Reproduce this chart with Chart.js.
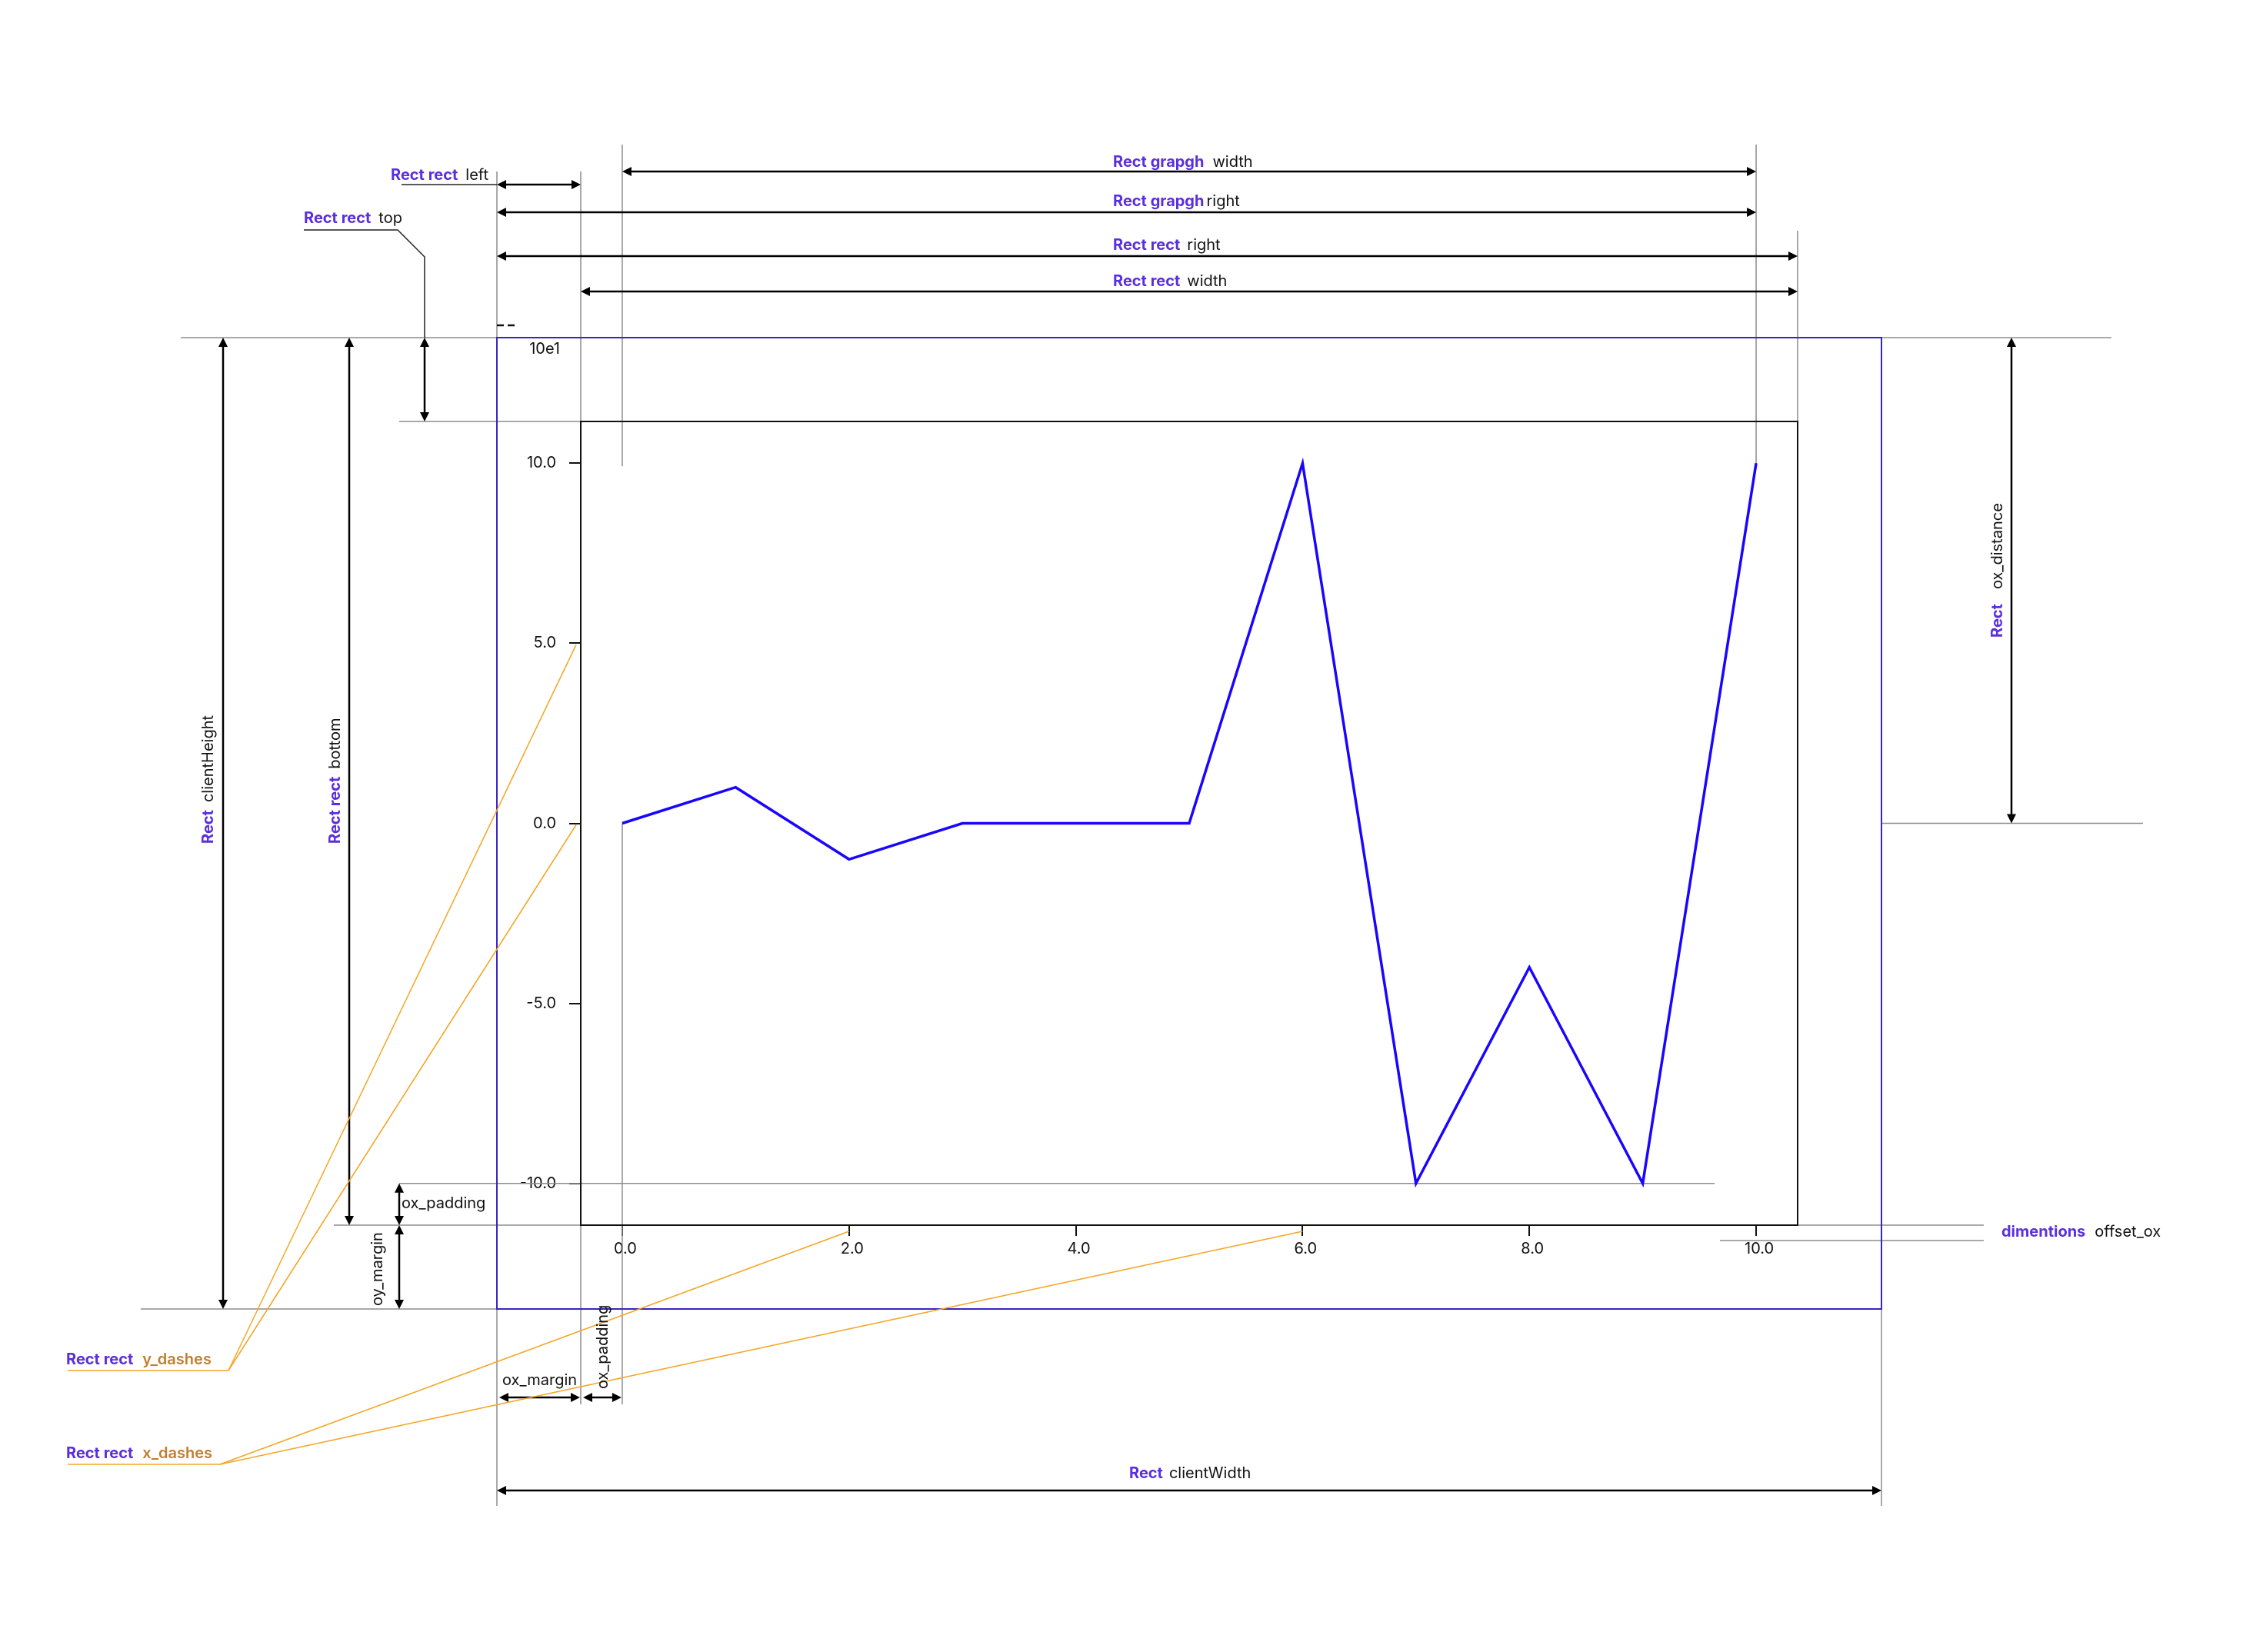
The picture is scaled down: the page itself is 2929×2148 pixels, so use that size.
<!DOCTYPE html>
<html>
<head>
<meta charset="utf-8">
<script src="https://cdn.jsdelivr.net/npm/chart.js@4.4.1/dist/chart.umd.min.js"></script>
<style>
  html, body { margin: 0; padding: 0; background: #fff; }
  canvas { display: block; }
</style>
</head>
<body>
<canvas id="chart" width="2929" height="2148"></canvas>
<script>
// data
const xValues = [0, 1, 2, 3, 4, 5, 6, 7, 8, 9, 10];
const yValues = [0, 1, -1, 0, 0, 0, 10, -10, -4, -10, 10];
const xTicks = [0, 2, 4, 6, 8, 10];
const yTicks = [-10, -5, 0, 5, 10];
const yExponent = '10e1';
// ticks that the orange leaders point at
const yDashTicks = [5, 0];
const xDashTicks = [2, 6];

const PURPLE = '#5a2fdc';
const ORANGE = '#f5a524';
const ORANGE_TXT = '#c17e30';
const GUIDE = '#8c8c8c';
const BLUE_RECT = '#3625c4';
const MARGIN = 109;

Chart.defaults.font.family = 'Inter, "Noto Sans", sans-serif';

function seg(ctx, x1, y1, x2, y2) {
  ctx.beginPath();
  ctx.moveTo(x1, y1);
  ctx.lineTo(x2, y2);
  ctx.stroke();
}

function head(ctx, x, y, ang) {
  const L = 12, W = 6;
  ctx.beginPath();
  ctx.moveTo(x, y);
  ctx.lineTo(x - L * Math.cos(ang) + W * Math.sin(ang), y - L * Math.sin(ang) - W * Math.cos(ang));
  ctx.lineTo(x - L * Math.cos(ang) - W * Math.sin(ang), y - L * Math.sin(ang) + W * Math.cos(ang));
  ctx.closePath();
  ctx.fill();
}

function arrow(ctx, x1, y1, x2, y2) {
  ctx.save();
  ctx.strokeStyle = '#000';
  ctx.fillStyle = '#000';
  ctx.lineWidth = 2.5;
  const ang = Math.atan2(y2 - y1, x2 - x1);
  const dx = Math.cos(ang) * 8, dy = Math.sin(ang) * 8;
  seg(ctx, x1 + dx, y1 + dy, x2 - dx, y2 - dy);
  head(ctx, x2, y2, ang);
  head(ctx, x1, y1, ang + Math.PI);
  ctx.restore();
}

// parts: [[text, kind, gapAfter]]
function label(ctx, parts, x, y, vertical) {
  ctx.save();
  ctx.translate(x, y);
  if (vertical) ctx.rotate(-Math.PI / 2);
  ctx.textBaseline = 'alphabetic';
  ctx.textAlign = 'left';
  let cx = 0;
  parts.forEach(([t, kind, gap]) => {
    if (kind === 'p') { ctx.font = 'bold 20px Inter'; ctx.fillStyle = PURPLE; }
    else if (kind === 'o') { ctx.font = '600 20px Inter'; ctx.fillStyle = ORANGE_TXT; }
    else { ctx.font = '20px Inter'; ctx.fillStyle = '#111'; }
    ctx.fillText(t, cx, 0);
    cx += ctx.measureText(t).width + (gap || 0);
  });
  ctx.restore();
}

const guides = {
  id: 'guides',
  beforeDatasetsDraw(chart) {
    const ctx = chart.ctx;
    const a = chart.chartArea;
    const xs = chart.scales.x, ys = chart.scales.y;
    const box = { l: a.left - MARGIN, t: a.top - MARGIN, r: a.right + MARGIN, b: a.bottom + MARGIN };
    const gx0 = xs.getPixelForValue(xTicks[0]);
    const gx1 = xs.getPixelForValue(xTicks[xTicks.length - 1]);
    const yTop = ys.getPixelForValue(yTicks[yTicks.length - 1]);
    const yLow = ys.getPixelForValue(yTicks[0]);
    const yZero = ys.getPixelForValue(0);

    ctx.save();
    ctx.strokeStyle = GUIDE;
    ctx.lineWidth = 1.5;
    // horizontal
    seg(ctx, 235, box.t, 2745, box.t);
    seg(ctx, 519, a.top, a.left, a.top);
    seg(ctx, box.r, yZero, 2786, yZero);
    seg(ctx, 519, yLow, 2229, yLow);
    seg(ctx, 434, a.bottom, a.left, a.bottom);
    seg(ctx, 2236, a.bottom, 2579, a.bottom);
    seg(ctx, 2236, a.bottom + 20, 2579, a.bottom + 20);
    seg(ctx, 183, box.b, box.l, box.b);
    // vertical
    seg(ctx, box.l, 223, box.l, 1958);
    seg(ctx, a.left, 223, a.left, a.top);
    seg(ctx, a.left, a.bottom, a.left, 1826);
    seg(ctx, gx0, 188, gx0, yTop + 4);
    seg(ctx, gx0, yZero, gx0, 1826);
    seg(ctx, gx1, 188, gx1, yTop + 4);
    seg(ctx, a.right, 300, a.right, a.top);
    seg(ctx, box.r, box.b, box.r, 1958);
    ctx.restore();
  },
  afterDraw(chart) {
    const ctx = chart.ctx;
    const a = chart.chartArea;
    const xs = chart.scales.x, ys = chart.scales.y;
    const box = { l: a.left - MARGIN, t: a.top - MARGIN, r: a.right + MARGIN, b: a.bottom + MARGIN };
    const gx0 = xs.getPixelForValue(xTicks[0]);
    const gx1 = xs.getPixelForValue(xTicks[xTicks.length - 1]);
    const yZero = ys.getPixelForValue(0);
    const yLow = ys.getPixelForValue(yTicks[0]);

    ctx.save();
    // client box
    ctx.strokeStyle = BLUE_RECT;
    ctx.lineWidth = 2;
    ctx.strokeRect(box.l, box.t, box.r - box.l, box.b - box.t);
    // plot frame
    ctx.strokeStyle = '#111';
    ctx.lineWidth = 2;
    ctx.strokeRect(a.left, a.top, a.right - a.left, a.bottom - a.top);

    // exponent label and dash marker
    ctx.font = '20px Inter';
    ctx.fillStyle = '#111';
    ctx.textAlign = 'right';
    ctx.textBaseline = 'middle';
    ctx.fillText(yExponent, 728, box.t + 15);
    ctx.strokeStyle = '#111';
    ctx.lineWidth = 2.5;
    ctx.setLineDash([9, 5]);
    seg(ctx, box.l, box.t - 16, box.l + 23, box.t - 16);
    ctx.setLineDash([]);

    // top dimension arrows
    arrow(ctx, box.l, 240, a.left, 240);
    arrow(ctx, gx0, 223, gx1, 223);
    arrow(ctx, box.l, 276, gx1, 276);
    arrow(ctx, box.l, 333, a.right, 333);
    arrow(ctx, a.left, 379, a.right, 379);

    // left labels leaders
    ctx.strokeStyle = '#222';
    ctx.lineWidth = 1.5;
    seg(ctx, 522, 240, box.l, 240);
    ctx.beginPath();
    ctx.moveTo(395, 299);
    ctx.lineTo(517, 299);
    ctx.lineTo(552, 334);
    ctx.lineTo(552, box.t);
    ctx.stroke();
    arrow(ctx, 552, box.t, 552, a.top);

    // vertical dimension arrows
    arrow(ctx, 290, box.t, 290, box.b);
    arrow(ctx, 454, box.t, 454, a.bottom);
    arrow(ctx, 2615, box.t, 2615, yZero);
    arrow(ctx, 519, yLow, 519, a.bottom);
    arrow(ctx, 519, a.bottom, 519, box.b);

    // bottom arrows
    arrow(ctx, box.l + 3, 1817, a.left - 1, 1817);
    arrow(ctx, a.left + 3, 1817, gx0 - 1, 1817);
    arrow(ctx, box.l, 1938, box.r, 1938);

    // orange leaders
    ctx.strokeStyle = ORANGE;
    ctx.lineWidth = 1.5;
    seg(ctx, 88, 1782, 297, 1782);
    yDashTicks.forEach(v => seg(ctx, 297, 1782, a.left - 6, ys.getPixelForValue(v) + 2));
    seg(ctx, 88, 1904, 286, 1904);
    xDashTicks.forEach(v => seg(ctx, 286, 1904, xs.getPixelForValue(v), a.bottom + 8));

    // labels
    label(ctx, [['Rect rect', 'p', 10], ['left']], 508, 234);
    label(ctx, [['Rect rect', 'p', 10], ['top']], 395, 290);
    label(ctx, [['Rect grapgh', 'p', 11], ['width']], 1447, 217);
    label(ctx, [['Rect grapgh', 'p', 3], ['right']], 1447, 268);
    label(ctx, [['Rect rect', 'p', 9], ['right']], 1447, 325);
    label(ctx, [['Rect rect', 'p', 9], ['width']], 1447, 372);
    label(ctx, [['Rect', 'p', 10], ['clientHeight']], 277, 1097, true);
    label(ctx, [['Rect rect', 'p', 10], ['bottom']], 442, 1097, true);
    label(ctx, [['Rect', 'p', 19], ['ox_distance']], 2603, 829, true);
    label(ctx, [['ox_padding']], 522, 1571);
    label(ctx, [['oy_margin']], 497, 1698, true);
    label(ctx, [['ox_margin']], 653, 1801);
    label(ctx, [['ox_padding']], 790, 1806, true);
    label(ctx, [['Rect', 'p', 8], ['clientWidth']], 1468, 1922);
    label(ctx, [['dimentions', 'p', 12], ['offset_ox']], 2602, 1608);
    label(ctx, [['Rect rect', 'p', 12], ['y_dashes', 'o']], 86, 1774);
    label(ctx, [['Rect rect', 'p', 12], ['x_dashes', 'o']], 86, 1896);
    ctx.restore();
  }
};

new Chart(document.getElementById('chart'), {
  type: 'line',
  data: {
    datasets: [{
      data: xValues.map((x, i) => ({ x: x, y: yValues[i] })),
      borderColor: '#1a05ff',
      borderWidth: 3.5,
      pointRadius: 0,
      tension: 0,
      fill: false
    }]
  },
  options: {
    responsive: false,
    devicePixelRatio: 1,
    animation: false,
    layout: { padding: { left: 645, top: 548, right: 592, bottom: 495 } },
    plugins: { legend: { display: false }, tooltip: { enabled: false } },
    scales: {
      x: {
        type: 'linear',
        min: -0.366,
        max: 10.366,
        afterBuildTicks: s => { s.ticks = xTicks.map(v => ({ value: v })); },
        afterFit: s => { s.height = 60; },
        grid: { drawOnChartArea: false, drawTicks: true, tickLength: 14, color: '#111', lineWidth: 2 },
        border: { display: true, color: '#111', width: 2 },
        ticks: {
          autoSkip: false, maxRotation: 0, padding: 5, labelOffset: 4, color: '#111',
          font: { size: 20 },
          callback: v => Number(v).toFixed(1)
        }
      },
      y: {
        type: 'linear',
        min: -11.16,
        max: 11.16,
        afterBuildTicks: s => { s.ticks = yTicks.map(v => ({ value: v })); },
        afterFit: s => { s.width = 110; },
        grid: { drawOnChartArea: false, drawTicks: true, tickLength: 15, color: '#111', lineWidth: 2 },
        border: { display: true, color: '#111', width: 2 },
        ticks: {
          padding: 17, color: '#111',
          font: { size: 20 },
          callback: v => Number(v).toFixed(1)
        }
      }
    }
  },
  plugins: [guides]
});
</script>
</body>
</html>
